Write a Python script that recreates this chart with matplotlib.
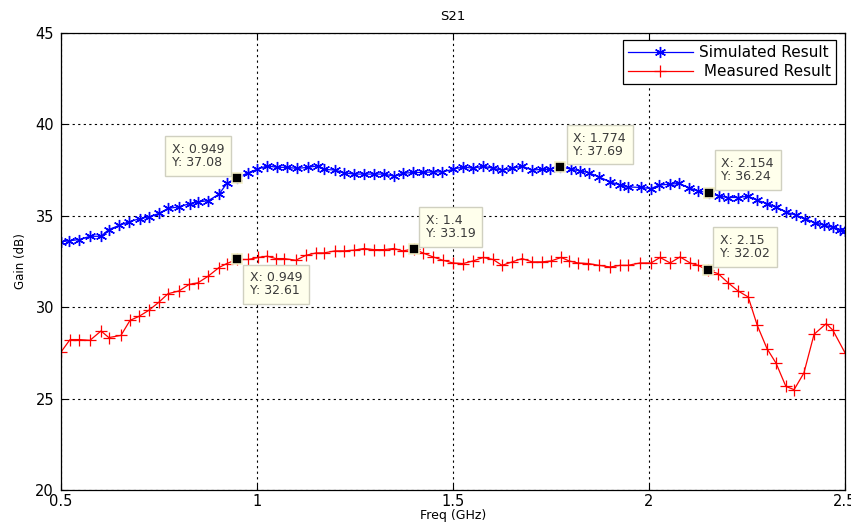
import matplotlib
matplotlib.use('Agg')
import matplotlib.pyplot as plt

# simulated S21 (GHz, dB)
sim_freq = [0.500, 0.520, 0.546, 0.574, 0.602, 0.622, 0.648, 0.673, 0.702, 0.724,
            0.750, 0.773, 0.801, 0.829, 0.849, 0.875, 0.903, 0.923, 0.949, 0.977,
            1.000, 1.026, 1.051, 1.077, 1.102, 1.130, 1.156, 1.171, 1.199, 1.222,
            1.247, 1.273, 1.298, 1.324, 1.349, 1.372, 1.398, 1.423, 1.449, 1.472,
            1.500, 1.526, 1.551, 1.577, 1.602, 1.625, 1.651, 1.676, 1.702, 1.727,
            1.747, 1.774, 1.801, 1.824, 1.847, 1.872, 1.901, 1.926, 1.946, 1.980,
            2.005, 2.026, 2.054, 2.077, 2.102, 2.125, 2.154, 2.179, 2.202, 2.227,
            2.253, 2.276, 2.301, 2.324, 2.349, 2.375, 2.398, 2.423, 2.446, 2.469,
            2.487, 2.500]
sim_gain = [33.58, 33.63, 33.70, 33.88, 33.88, 34.25, 34.47, 34.67, 34.85, 34.94,
            35.13, 35.40, 35.49, 35.67, 35.76, 35.82, 36.18, 36.77, 37.08, 37.35,
            37.54, 37.73, 37.65, 37.65, 37.59, 37.65, 37.73, 37.54, 37.50, 37.35,
            37.28, 37.28, 37.28, 37.28, 37.17, 37.32, 37.37, 37.37, 37.40, 37.40,
            37.54, 37.68, 37.59, 37.72, 37.59, 37.50, 37.59, 37.72, 37.50, 37.54,
            37.54, 37.69, 37.54, 37.46, 37.35, 37.13, 36.86, 36.68, 36.58, 36.55,
            36.49, 36.68, 36.73, 36.77, 36.53, 36.36, 36.24, 36.07, 36.00, 36.00,
            36.07, 35.85, 35.67, 35.49, 35.21, 35.03, 34.85, 34.61, 34.49, 34.36,
            34.25, 34.15]

# measured S21 (GHz, dB)
meas_freq = [0.500, 0.523, 0.546, 0.574, 0.602, 0.622, 0.653, 0.676, 0.699, 0.724,
             0.750, 0.773, 0.801, 0.827, 0.849, 0.875, 0.903, 0.923, 0.949, 0.977,
             1.003, 1.026, 1.048, 1.069, 1.099, 1.125, 1.151, 1.171, 1.199, 1.222,
             1.247, 1.273, 1.298, 1.324, 1.349, 1.372, 1.400, 1.423, 1.449, 1.474,
             1.500, 1.526, 1.551, 1.577, 1.602, 1.625, 1.651, 1.676, 1.702, 1.727,
             1.750, 1.776, 1.796, 1.819, 1.845, 1.872, 1.901, 1.926, 1.946, 1.977,
             2.005, 2.028, 2.054, 2.079, 2.105, 2.125, 2.150, 2.176, 2.202, 2.227,
             2.253, 2.276, 2.301, 2.324, 2.349, 2.370, 2.395, 2.421, 2.452, 2.469,
             2.500]
meas_gain = [27.55, 28.23, 28.23, 28.19, 28.70, 28.34, 28.46, 29.28, 29.50, 29.83,
             30.28, 30.74, 30.89, 31.25, 31.33, 31.69, 32.17, 32.39, 32.61, 32.61,
             32.72, 32.79, 32.66, 32.66, 32.57, 32.84, 32.97, 32.97, 33.08, 33.08,
             33.12, 33.21, 33.15, 33.15, 33.21, 33.08, 33.19, 32.97, 32.75, 32.57,
             32.42, 32.39, 32.53, 32.72, 32.61, 32.29, 32.48, 32.66, 32.48, 32.48,
             32.53, 32.72, 32.53, 32.42, 32.39, 32.29, 32.20, 32.29, 32.29, 32.42,
             32.42, 32.72, 32.42, 32.75, 32.42, 32.29, 32.02, 31.84, 31.33, 30.89,
             30.56, 29.01, 27.73, 26.94, 25.67, 25.49, 26.40, 28.52, 29.10, 28.74,
             27.50]

# data tips: (x, y, offset x px, offset y px, ha, va)
tips = [
    (0.949, 37.08, -13, 9, 'right', 'bottom'),
    (1.774, 37.69, 13, 9, 'left', 'bottom'),
    (2.154, 36.24, 12, 10, 'left', 'bottom'),
    (0.949, 32.61, 13, -12, 'left', 'top'),
    (1.4, 33.19, 12, 9, 'left', 'bottom'),
    (2.15, 32.02, 12, 10, 'left', 'bottom'),
]

plt.rcParams['font.family'] = 'DejaVu Sans'

fig = plt.figure(figsize=(8.51, 5.23), dpi=100)
ax = fig.add_axes([0.0717, 0.063, 0.9213, 0.874])

asterisk = (6, 2, 0)
ax.plot(sim_freq, sim_gain, color='blue', lw=0.9, marker=asterisk, ms=8, mew=1.0,
        label='Simulated Result')
ax.plot(meas_freq, meas_gain, color='red', lw=0.9, marker='+', ms=9, mew=0.9,
        label=' Measured Result')

for x, y, dx, dy, ha, va in tips:
    ax.plot(x, y, marker='s', ms=7, mfc='black', mec='#f4f0c8', mew=1.2, zorder=5)
    ax.annotate(f'X: {x:g}\nY: {y:.2f}', xy=(x, y), xytext=(dx, dy),
                textcoords='offset pixels', ha=ha, va=va, multialignment='left',
                fontsize=9, color='#3a3a3a', linespacing=1.0, zorder=6,
                bbox=dict(boxstyle='square,pad=0.55', fc='#ffffec', ec='#d0d0c0', lw=1))

ax.set_xlim(0.5, 2.5)
ax.set_ylim(20, 45)
ax.set_xticks([0.5, 1, 1.5, 2, 2.5])
ax.set_xticklabels(['0.5', '1', '1.5', '2', '2.5'])
ax.set_yticks([20, 25, 30, 35, 40, 45])

ax.grid(True, color='black', linestyle=(0, (2, 3)), linewidth=0.8)
ax.set_axisbelow(True)
ax.tick_params(direction='in', top=True, right=True, length=4, labelsize=10.5,
               colors='black')
ax.tick_params(axis='x', pad=3)
ax.tick_params(axis='y', pad=5)
for s in ax.spines.values():
    s.set_linewidth(0.9)

ax.set_title('S21', fontsize=9.5, pad=9)
ax.set_xlabel('Freq (GHz)', fontsize=9, labelpad=0)
ax.set_ylabel('Gain (dB)', fontsize=8.5, labelpad=6)

leg = ax.legend(loc='upper right', bbox_to_anchor=(0.9885, 0.985), borderaxespad=0,
                fontsize=11, fancybox=False, edgecolor='black', framealpha=1,
                handlelength=4.2, handletextpad=0.4, labelspacing=0.25,
                borderpad=0.35)
leg.get_frame().set_linewidth(0.9)

fig.savefig('out.png', dpi=100)
